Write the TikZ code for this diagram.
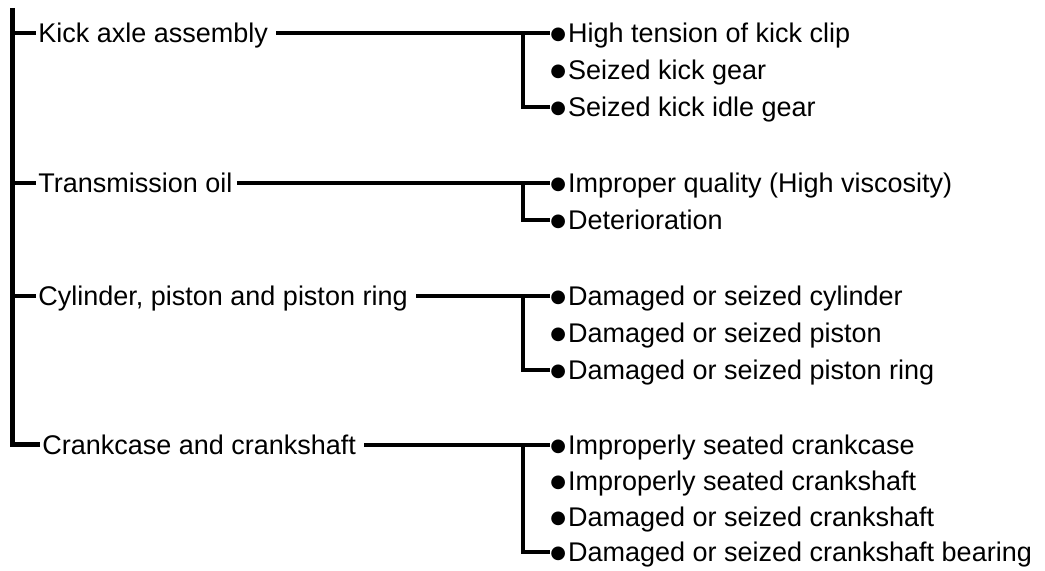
\documentclass[tikz,border=0pt]{standalone}
\usepackage{fontspec}
\setmainfont{Liberation Sans}
\newfontfamily\dotfont{DejaVu Sans}
\newcommand\bigbul{\raisebox{1.7pt}{\dotfont\fontsize{9}{9}\selectfont ●}\hspace{1pt}}
\tikzset{
  label/.style={anchor=west, inner sep=0pt, text height=9.7pt, text depth=0pt,
    font=\fontsize{13.5}{15}\selectfont},
  trunk/.style={line width=2.5pt},
  branch/.style={line width=1.7pt}
}
\begin{document}
\begin{tikzpicture}[x=0.5pt, y=-0.5pt]
  \useasboundingbox (0,0) rectangle (1045,571);
  \coordinate (top) at (12,8);
  % causes
  \node[label] (kick) at (38,33) {Kick axle assembly};
  \node[label] (oil) at (38,183) {Transmission oil};
  \node[label] (cyl) at (38,296) {Cylinder, piston and piston ring};
  \node[label] (crank) at (42,445) {Crankcase and crankshaft};
  % details
  \node[label] (k1) at (550,33) {\bigbul High tension of kick clip};
  \node[label] (k2) at (550,70) {\bigbul Seized kick gear};
  \node[label] (k3) at (550,107) {\bigbul Seized kick idle gear};
  \node[label] (o1) at (550,183) {\bigbul Improper quality (High viscosity)};
  \node[label] (o2) at (550,220) {\bigbul Deterioration};
  \node[label] (c1) at (550,296) {\bigbul Damaged or seized cylinder};
  \node[label] (c2) at (550,333) {\bigbul Damaged or seized piston};
  \node[label] (c3) at (550,370) {\bigbul Damaged or seized piston ring};
  \node[label] (s1) at (550,445) {\bigbul Improperly seated crankcase};
  \node[label] (s2) at (550,481) {\bigbul Improperly seated crankshaft};
  \node[label] (s3) at (550,517) {\bigbul Damaged or seized crankshaft};
  \node[label] (s4) at (550,552) {\bigbul Damaged or seized crankshaft bearing};
  \coordinate (kj) at (523,33);
  \coordinate (oj) at (523,183);
  \coordinate (cj) at (523,296);
  \coordinate (sj) at (523,445);
  % tree
  \draw[trunk] (top) |- ([xshift=-1pt]crank.west);
  \draw[branch] (kick.west -| top) -- ([xshift=-1pt]kick.west);
  \draw[branch] (oil.west -| top) -- ([xshift=-1pt]oil.west);
  \draw[branch] (cyl.west -| top) -- ([xshift=-1pt]cyl.west);
  \draw[branch] ([xshift=4pt]kick.east) -- (k1.west);
  \draw[branch] ([xshift=2pt]oil.east) -- (o1.west);
  \draw[branch] ([xshift=4pt]cyl.east) -- (c1.west);
  \draw[branch] ([xshift=4pt]crank.east) -- (s1.west);
  \draw[branch] (kj) |- (k3.west);
  \draw[branch] (oj) |- (o2.west);
  \draw[branch] (cj) |- (c3.west);
  \draw[branch] (sj) |- (s4.west);
\end{tikzpicture}
\end{document}
